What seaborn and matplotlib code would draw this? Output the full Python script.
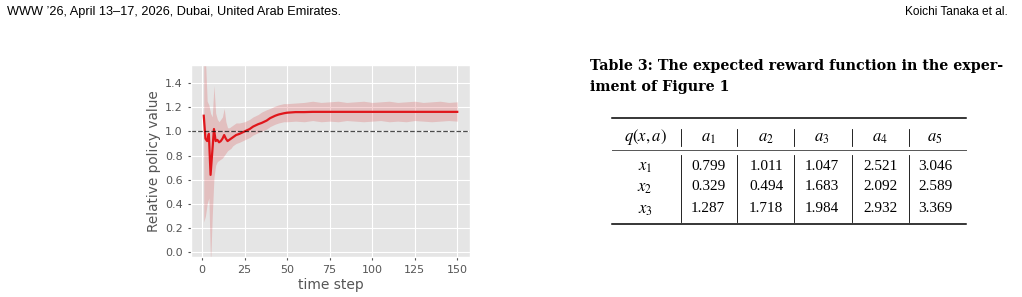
import numpy as np
import pandas as pd
import matplotlib
matplotlib.use("Agg")
import matplotlib.pyplot as plt
import seaborn as sns

# time steps and relative policy value (mean with lower / upper band)
steps = [1, 2, 3, 4, 5, 6, 7, 8, 9, 10, 11, 12, 13, 14, 15, 16, 17, 18, 19, 20,
         22, 25, 28, 30, 33, 35, 38, 40, 43, 45, 48, 50, 55, 60, 65, 70, 75, 80,
         85, 90, 95, 100, 105, 110, 115, 120, 125, 130, 135, 140, 145, 150]
mean_val = [1.13, 0.94, 0.92, 0.98, 0.64, 0.83, 1.02, 0.92, 0.93, 0.91, 0.92, 0.94,
            0.97, 0.94, 0.92, 0.93, 0.94, 0.95, 0.96, 0.97,
            0.98, 1.00, 1.02, 1.04, 1.06, 1.07, 1.09, 1.11, 1.13, 1.14, 1.15, 1.155,
            1.16, 1.16, 1.162, 1.162, 1.162, 1.162, 1.162, 1.162, 1.162, 1.162,
            1.162, 1.162, 1.162, 1.162, 1.162, 1.162, 1.162, 1.162, 1.162, 1.162]
lower_val = [0.25, 0.30, 0.40, 0.45, -0.10, 0.30, 0.62, 0.72, 0.75, 0.76, 0.77, 0.78,
             0.80, 0.82, 0.84, 0.85, 0.86, 0.88, 0.89, 0.90,
             0.91, 0.93, 0.95, 0.97, 0.99, 1.00, 1.02, 1.04, 1.06, 1.07, 1.08, 1.08,
             1.085, 1.08, 1.09, 1.08, 1.085, 1.08, 1.09, 1.085, 1.08, 1.085, 1.09,
             1.08, 1.085, 1.08, 1.09, 1.085, 1.08, 1.085, 1.09, 1.085]
upper_val = [1.70, 1.60, 1.25, 1.22, 1.15, 1.12, 1.38, 1.15, 1.10, 1.08, 1.10, 1.12,
             1.19, 1.08, 1.03, 1.03, 1.04, 1.05, 1.06, 1.07,
             1.07, 1.08, 1.10, 1.12, 1.14, 1.16, 1.18, 1.19, 1.21, 1.22, 1.23, 1.23,
             1.235, 1.24, 1.25, 1.24, 1.245, 1.25, 1.24, 1.245, 1.25, 1.24, 1.245,
             1.25, 1.24, 1.245, 1.25, 1.24, 1.245, 1.25, 1.24, 1.245]

# table contents
col_labels = [r"$q(x,a)$", r"$a_1$", r"$a_2$", r"$a_3$", r"$a_4$", r"$a_5$"]
row_labels = [r"$x_1$", r"$x_2$", r"$x_3$"]
reward_x1 = ["0.799", "1.011", "1.047", "2.521", "3.046"]
reward_x2 = ["0.329", "0.494", "1.683", "2.092", "2.589"]
reward_x3 = ["1.287", "1.718", "1.984", "2.932", "3.369"]

plt.style.use("ggplot")
plt.rcParams["mathtext.fontset"] = "stix"

df = pd.DataFrame({"step": steps, "mean": mean_val, "lo": lower_val, "hi": upper_val})

W, H = 1022, 297
fig = plt.figure(figsize=(W / 100, H / 100), dpi=100)
fig.patch.set_facecolor("white")

ax = fig.add_axes([191 / W, 1 - 257 / H, 279 / W, 192 / H])
ax.fill_between(df["step"], df["lo"], df["hi"], color="#d62728", alpha=0.2, linewidth=0)
sns.lineplot(data=df, x="step", y="mean", ax=ax, color="#e0161b", linewidth=1.6)
ax.axhline(1.0, color="black", linestyle="--", linewidth=0.9, alpha=0.7)
ax.set_xlim(-6.5, 157.5)
ax.set_ylim(-0.04, 1.55)
ax.set_xticks([0, 25, 50, 75, 100, 125, 150])
ax.set_yticks([0.0, 0.2, 0.4, 0.6, 0.8, 1.0, 1.2, 1.4])
ax.set_yticklabels([f"{v:.1f}" for v in ax.get_yticks()])
ax.tick_params(labelsize=8, colors="#555555", length=2.5)
ax.set_xlabel("time step", fontsize=10, color="#555555", labelpad=2)
ax.set_ylabel("Relative policy value", fontsize=9.8, color="#555555", labelpad=3)

# page header
fig.text(7 / W, 1 - 12 / H, "WWW \u201926, April 13\u201317, 2026, Dubai, United Arab Emirates.",
         fontsize=9.2, family="Liberation Sans", va="center", ha="left")
fig.text(1008 / W, 1 - 12 / H, "Koichi Tanaka et al.", fontsize=8.6,
         family="Liberation Sans", va="center", ha="right")

# caption
fig.text(590 / W, 1 - 70 / H, "Table 3: The expected reward function in the exper-",
         fontsize=10.3, family="DejaVu Serif", weight="bold", ha="left", va="baseline")
fig.text(590 / W, 1 - 91 / H, "iment of Figure 1",
         fontsize=10.3, family="DejaVu Serif", weight="bold", ha="left", va="baseline")

# table
def fx(x):
    return x / W

def fy(y):
    return 1 - y / H

x0, x1 = 612, 966
fig.add_artist(plt.Line2D([fx(x0), fx(x1)], [fy(118), fy(118)], color="black", lw=1.1))
fig.add_artist(plt.Line2D([fx(x0), fx(x1)], [fy(149.5), fy(149.5)], color="#555555", lw=0.7))
fig.add_artist(plt.Line2D([fx(x0), fx(x1)], [fy(224), fy(224)], color="black", lw=1.1))

vlines = [680.7, 737.3, 794, 851.7, 909.3]
for vx in vlines:
    fig.add_artist(plt.Line2D([fx(vx), fx(vx)], [fy(129), fy(146)], color="black", lw=0.6))
    fig.add_artist(plt.Line2D([fx(vx), fx(vx)], [fy(155), fy(222)], color="black", lw=0.6))

col_x = [645, 708, 766, 822, 880, 935]
for cx, lab in zip(col_x, col_labels):
    fig.text(fx(cx), fy(137), lab, fontsize=12, ha="center", va="center")

row_y = [166, 187, 209]
for ry, rlab, vals in zip(row_y, row_labels, [reward_x1, reward_x2, reward_x3]):
    fig.text(fx(col_x[0]), fy(ry), rlab, fontsize=12, ha="center", va="center")
    for cx, v in zip(col_x[1:], vals):
        fig.text(fx(cx), fy(ry), v, fontsize=11, family="Liberation Serif",
                 ha="center", va="center")

fig.savefig("out.png", dpi=100, facecolor="white")
